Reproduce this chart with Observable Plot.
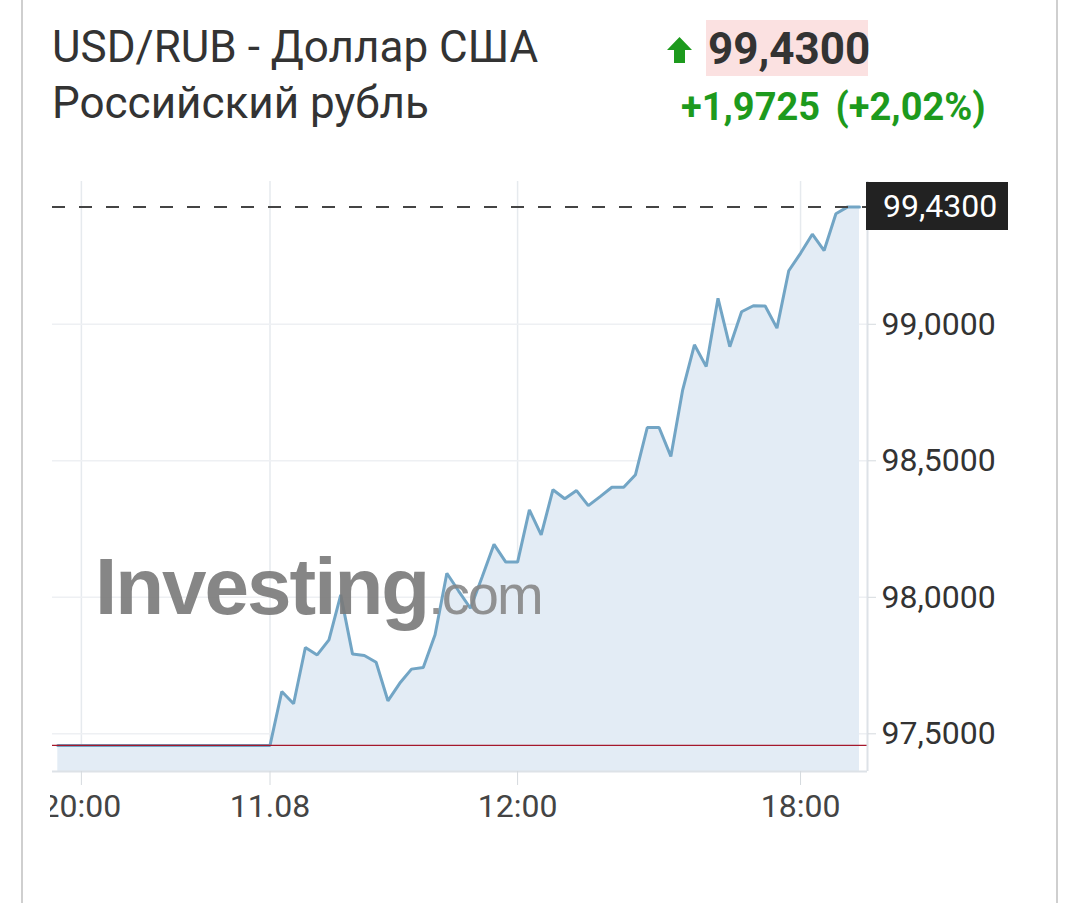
<!DOCTYPE html>
<html>
<head>
<meta charset="utf-8">
<script src="https://cdn.jsdelivr.net/npm/d3@7"></script>
<script src="https://cdn.jsdelivr.net/npm/@observablehq/plot@0.6"></script>
<style>
  body { margin: 0; background: #fff; font-family: Roboto, sans-serif; }
  #page { position: relative; width: 1080px; height: 903px; overflow: hidden; }
  .side { position: absolute; top: 0; bottom: 0; width: 2px; background: #cfcfcf; }
  .t { position: absolute; white-space: nowrap; color: #333; }
  #chart { position: absolute; left: 50px; top: 170px; }
  #lastbox { position: absolute; background: #222; color: #fff; font-size: 32px; line-height: 48px; height: 48px; width: 142px; padding-left: 17px; box-sizing: border-box; }
  #mark { position: absolute; left: 95px; top: 547px; line-height: 80px; color: #7a7a7a; opacity: 0.9; font-family: "Liberation Sans", Arial, sans-serif; white-space: nowrap; }
</style>
</head>
<body>
<div id="page">
  <div class="side" style="left:21px"></div>
  <div class="side" style="left:1056px"></div>

  <div class="t" style="left:52px;top:25px;font-size:44px;line-height:44px">USD/RUB - Доллар США</div>
  <div class="t" style="left:52px;top:81px;font-size:44px;line-height:44px">Российский рубль</div>

  <svg style="position:absolute;left:667px;top:37px" width="25" height="26" viewBox="0 0 25 26">
    <polygon points="12.5,0 25,13 18,13 18,26 7,26 7,13 0,13" fill="#1d9a1d"/>
  </svg>
  <div style="position:absolute;left:706px;top:20px;width:162px;height:56px;background:#fbe1e1"></div>
  <div class="t" style="left:708px;top:27px;font-size:44px;line-height:44px;font-weight:700">99,4300</div>
  <div class="t" style="left:681px;top:88px;font-size:38px;line-height:38px;font-weight:700;color:#1d9a1d;word-spacing:6px">+1,9725 (+2,02%)</div>

  <div id="chart"></div>
  <div id="mark"><span style="font-size:80px;font-weight:700;letter-spacing:-2px">Investing</span><span style="font-size:56px;letter-spacing:-2px;color:#888">.com</span></div>
  <div id="lastbox">99,4300</div>
</div>

<script>
// USD/RUB, 15-minute points, index = position on the session axis
const rates = [
  97.4575, 97.4575, 97.4575, 97.4575, 97.4575, 97.4575, 97.4575, 97.4575, 97.4575, 97.4575,
  97.4575, 97.4575, 97.4575, 97.4575, 97.4575, 97.4575, 97.4575, 97.4575, 97.4575,
  97.655, 97.610, 97.816, 97.789, 97.844, 98.009, 97.792, 97.787, 97.762, 97.621,
  97.685, 97.737, 97.743, 97.863, 98.088, 98.023, 97.960, 98.075, 98.194, 98.129,
  98.129, 98.320, 98.229, 98.394, 98.361, 98.391, 98.336, 98.369, 98.403, 98.403,
  98.449, 98.622, 98.622, 98.516, 98.759, 98.925, 98.845, 99.095, 98.918, 99.046,
  99.068, 99.067, 98.986, 99.196, 99.260, 99.330, 99.270, 99.405, 99.430, 99.430
]
const prevClose = 97.4575
const lastRate = 99.43

const xTicks = [2, 18, 39, 63]
const xLabels = ['20:00', '11.08', '12:00', '18:00']
const yTicks = [97.5, 98.0, 98.5, 99.0]

const xDomain = [-0.45, 68.68]
const yDomain = [97.362, 99.523]

const data = rates.map((v, i) => ({i: i, v: v}))
const fmt = d => d.toFixed(4).replace('.', ',')

let chart = Plot.plot({
  width: 1000,
  height: 680,
  marginLeft: 2,
  marginRight: 183,
  marginTop: 11,
  marginBottom: 79,
  x: {domain: xDomain},
  y: {domain: yDomain},
  style: {fontFamily: 'Roboto', background: 'transparent', overflow: 'hidden'},
  marks: [
    Plot.gridX(xTicks, {stroke: '#e6eaee', strokeOpacity: 1, strokeWidth: 1.5}),
    Plot.gridY(yTicks, {stroke: '#eef0f3', strokeOpacity: 1, strokeWidth: 1.5}),
    Plot.areaY(data, {x: 'i', y1: yDomain[0], y2: 'v', fill: '#e3ecf5'}),
    Plot.line(data, {x: 'i', y: 'v', stroke: '#72a5c5', strokeWidth: 3, strokeLinejoin: 'miter'}),
    Plot.ruleY([prevClose], {stroke: '#a5182c', strokeWidth: 1.3}),
    Plot.ruleY([lastRate], {stroke: '#444', strokeWidth: 2, strokeDasharray: '13,14'}),
    Plot.ruleX([xDomain[1]], {stroke: '#dde2e7', strokeWidth: 2}),
    Plot.ruleY([yDomain[0]], {stroke: '#dde2e7', strokeWidth: 2}),
    Plot.axisY(yTicks, {
      anchor: 'right', tickSize: 8, tickPadding: 6, tickFormat: fmt,
      fontSize: 32, fill: '#333', stroke: '#d5dade', label: null
    }),
    Plot.axisX(xTicks, {
      anchor: 'bottom', tickSize: 14, tickPadding: 9,
      tickFormat: d => xLabels[xTicks.indexOf(d)],
      fontSize: 32, fill: '#444', stroke: '#d5dade', label: null
    })
  ]
})

d3.select('#chart').append(() => chart)

// price tag on the right, placed through the y scale
const yPix = chart.scale('y').apply(lastRate)
d3.select('#lastbox')
  .style('left', (50 + 1000 - 183 - 1) + 'px')
  .style('top', (170 + yPix - 24) + 'px')
</script>
</body>
</html>
